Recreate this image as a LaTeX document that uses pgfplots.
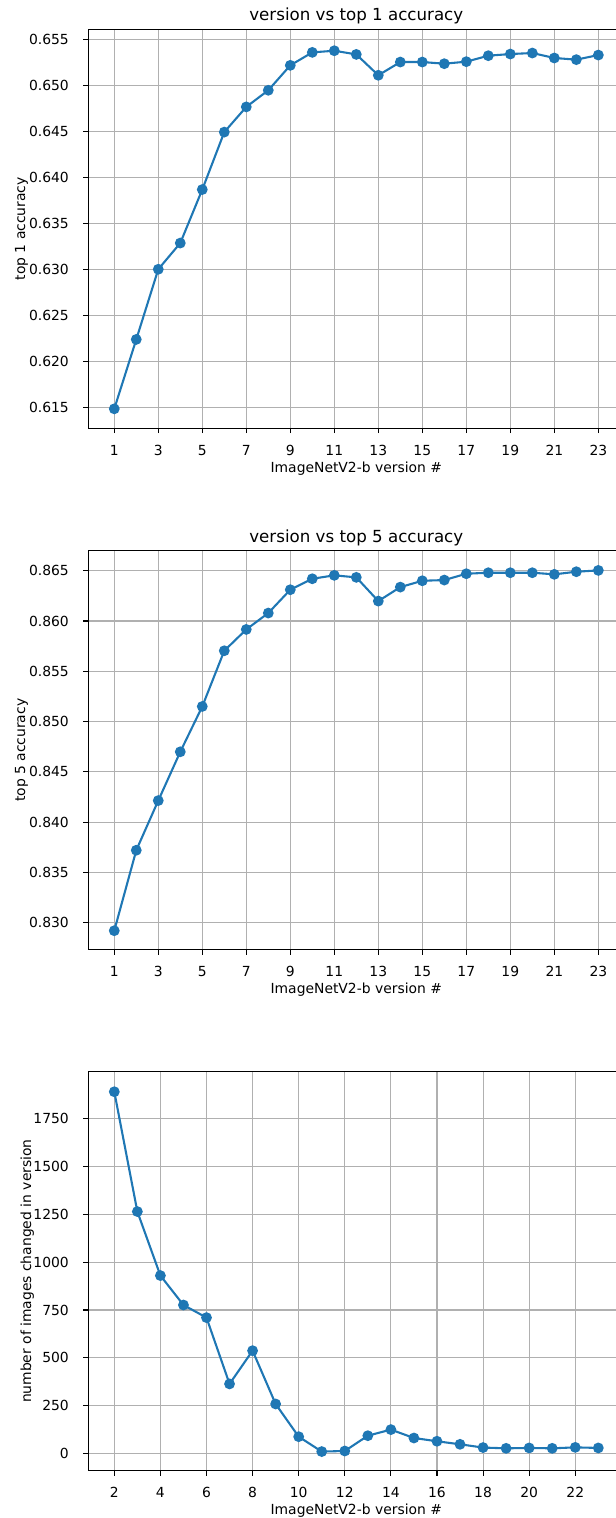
\documentclass[border=0pt]{standalone}
\usepackage{pgfplots}
\pgfplotsset{compat=1.18}
\usepackage{fontspec}
\setmainfont{DejaVu Sans}
\definecolor{mplblue}{HTML}{1F77B4}
\definecolor{gridgray}{HTML}{B0B0B0}
\pgfplotsset{
  every axis title shift=0pt,
  mplstyle/.style={
    scale only axis,
    width=385.92pt, height=287.28pt,
    anchor=north west,
    axis line style={line width=0.8pt, black},
    tick align=outside,
    major tick length=3.5pt,
    every tick/.style={black, line width=0.8pt},
    xtick pos=lower, ytick pos=left,
    grid=major,
    major grid style={gridgray, line width=0.8pt},
    tick label style={font=\fontsize{10}{12}\selectfont},
    /pgf/number format/assume math mode=true,
    label style={font=\fontsize{10}{12}\selectfont},
    title style={font=\fontsize{12}{14}\selectfont, at={(axis description cs:0.5,1)}, anchor=base, yshift=6pt},
    xticklabel style={anchor=base, yshift=-15.9pt},
    yticklabel style={anchor=east, xshift=-7pt},
    xlabel style={at={(axis description cs:0.5,0)}, anchor=base, yshift=-31.5pt},
    xlabel={ImageNetV2-b version \#},
  },
  mplline/.style={mplblue, line width=1.5pt, mark=*, mark size=3.1pt, mark options={mplblue, fill=mplblue}},
}
\begin{document}
\begin{tikzpicture}
\begin{axis}[mplstyle,
  at={(63.58pt,-21.1pt)},
  title={version vs top 1 accuracy},
  xmin=-0.18, xmax=24.18,
  ymin=0.6127, ymax=0.6561,
  xtick={1,3,...,23},
  ytick={0.615,0.620,0.625,0.630,0.635,0.640,0.645,0.650,0.655},
  yticklabel style={/pgf/number format/fixed, /pgf/number format/fixed zerofill, /pgf/number format/precision=3},
  ylabel={top 1 accuracy},
  ylabel style={at={(axis description cs:-0.1244,0.5)}, anchor=center, rotate=0},
]
\addplot[mplline] coordinates {
(1,0.61482) (2,0.62237) (3,0.63000) (4,0.63285) (5,0.63867) (6,0.64492)
(7,0.64766) (8,0.64947) (9,0.65218) (10,0.65359) (11,0.65377) (12,0.65337)
(13,0.65110) (14,0.65254) (15,0.65254) (16,0.65236) (17,0.65258) (18,0.65323)
(19,0.65341) (20,0.65352) (21,0.65298) (22,0.65280) (23,0.65330)
};
\end{axis}
\begin{axis}[mplstyle,
  at={(63.58pt,-396.5pt)},
  title={version vs top 5 accuracy},
  xmin=-0.18, xmax=24.18,
  ymin=0.82731, ymax=0.86699,
  xtick={1,3,...,23},
  ytick={0.830,0.835,0.840,0.845,0.850,0.855,0.860,0.865},
  yticklabel style={/pgf/number format/fixed, /pgf/number format/fixed zerofill, /pgf/number format/precision=3},
  ylabel={top 5 accuracy},
  ylabel style={at={(axis description cs:-0.1244,0.5)}, anchor=center, rotate=0},
]
\addplot[mplline] coordinates {
(1,0.8292) (2,0.8372) (3,0.84214) (4,0.84699) (5,0.8515) (6,0.85704)
(7,0.85916) (8,0.86079) (9,0.86311) (10,0.8642) (11,0.86454) (12,0.86434)
(13,0.86198) (14,0.86337) (15,0.8640) (16,0.86407) (17,0.8647) (18,0.8648)
(19,0.8648) (20,0.8648) (21,0.86464) (22,0.8649) (23,0.86503)
};
\end{axis}
\begin{axis}[mplstyle,
  at={(63.58pt,-771.6pt)},
  xmin=0.872, xmax=24.128,
  ymin=-91, ymax=1997,
  xtick={2,4,...,22},
  ytick={0,250,500,750,1000,1250,1500,1750},
  yticklabel style={/pgf/number format/1000 sep={}},
  ylabel={number of images changed in version},
  ylabel style={at={(axis description cs:-0.1138,0.5)}, anchor=center, rotate=0},
]
\addplot[mplline] coordinates {
(2,1892) (3,1265) (4,930) (5,776) (6,710) (7,363) (8,537) (9,258)
(10,87) (11,9) (12,12) (13,92) (14,124) (15,80) (16,63) (17,47)
(18,30) (19,26) (20,28) (21,26) (22,31) (23,28)
};
\end{axis}
\pgfresetboundingbox
\useasboundingbox (0pt,0pt) rectangle (443.52pt,-1092.96pt);
\end{tikzpicture}
\end{document}
